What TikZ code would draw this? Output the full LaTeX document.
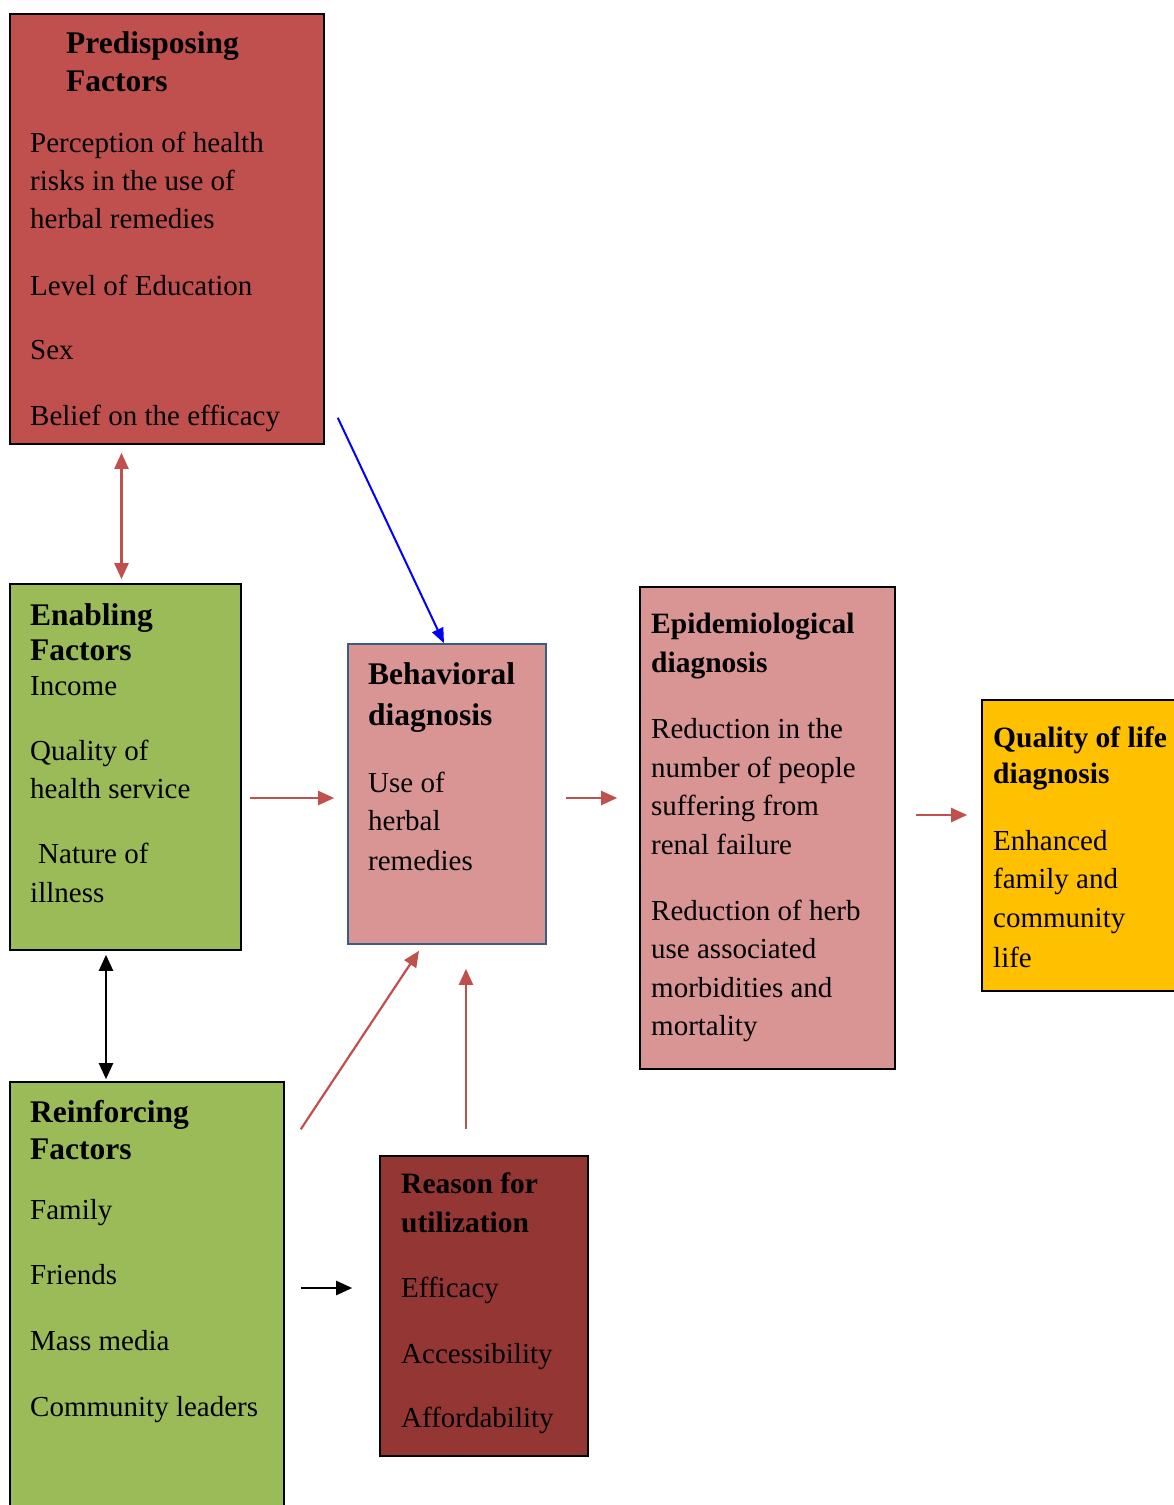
\documentclass[tikz,border=0pt]{standalone}
\usepackage{fontspec}
\setmainfont{Liberation Serif}
\usetikzlibrary{arrows.meta,calc}
\definecolor{predfill}{HTML}{C0504D}
\definecolor{greenfill}{HTML}{9BBB59}
\definecolor{pinkfill}{HTML}{D99594}
\definecolor{qolfill}{HTML}{FFC000}
\definecolor{rsnfill}{HTML}{943634}
\definecolor{behborder}{HTML}{385D8A}
\definecolor{redarrow}{HTML}{C0504D}
\tikzset{
  box/.style={draw=black, line width=1.6pt, rectangle, inner sep=0pt},
  txt/.style={anchor=base west, inner sep=0pt, font=\fontsize{29}{35}\selectfont},
  hdl/.style={anchor=base west, inner sep=0pt, font=\fontsize{31.5}{37}\selectfont\bfseries},
  hdr/.style={anchor=base west, inner sep=0pt, font=\fontsize{29.5}{35}\selectfont\bfseries},
  redarr/.style={draw=redarrow, line width=2.2pt, -{Triangle[length=16pt,width=14pt]}},
  redboth/.style={draw=redarrow, line width=2.2pt, {Triangle[length=16pt,width=14pt]}-{Triangle[length=16pt,width=14pt]}},
  blkarr/.style={draw=black, line width=2.2pt, -{Triangle[length=16pt,width=14pt]}},
  blkboth/.style={draw=black, line width=2.2pt, {Triangle[length=16pt,width=14pt]}-{Triangle[length=16pt,width=14pt]}},
  bluearr/.style={draw=blue, line width=2pt, -{Triangle[length=15pt,width=12pt]}}
}
\begin{document}
\begin{tikzpicture}[x=1pt,y=-1pt]
\useasboundingbox (0,0) rectangle (1173,1505);
% boxes
\node[box, fill=predfill, minimum width=314pt, minimum height=430pt] (pre) at (167,229) {};
\node[box, fill=greenfill, minimum width=231pt, minimum height=366pt] (en) at (125.5,767) {};
\node[box, draw=behborder, fill=pinkfill, minimum width=198pt, minimum height=300pt] (beh) at (447,794) {};
\node[box, fill=pinkfill, minimum width=255pt, minimum height=482pt] (epi) at (767.5,828) {};
\node[box, fill=qolfill, minimum width=203pt, minimum height=291pt] (qol) at (1083.5,845.5) {};
\node[box, fill=greenfill, minimum width=274pt, minimum height=438pt] (rei) at (147,1301) {};
\node[box, fill=rsnfill, minimum width=208pt, minimum height=300pt] (rsn) at (484,1306) {};
% Predisposing text
\node[hdl] (p1) at (66,53) {Predisposing};
\node[hdl] (p2) at (66,91) {Factors};
\node[txt] (p3) at (30,152) {Perception of health};
\node[txt] (p4) at (30,190) {risks in the use of};
\node[txt] (p5) at (30,228) {herbal remedies};
\node[txt] (p6) at (30,295) {Level of Education};
\node[txt] (p7) at (30,359) {Sex};
\node[txt] (p8) at (30,425) {Belief on the efficacy};
% Enabling text
\node[hdl] (e1) at (30,625) {Enabling};
\node[hdl] (e2) at (30,660) {Factors};
\node[txt] (e3) at (30,695) {Income};
\node[txt] (e4) at (30,760) {Quality of};
\node[txt] (e5) at (30,798) {health service};
\node[txt] (e6) at (38,863) {Nature of};
\node[txt] (e7) at (30,902) {illness};
% Behavioral text
\node[hdl] (b1) at (368,684) {Behavioral};
\node[hdl] (b2) at (368,725) {diagnosis};
\node[txt] (b3) at (368,792) {Use of};
\node[txt] (b4) at (368,830) {herbal};
\node[txt] (b5) at (368,870) {remedies};
% Epidemiological text
\node[hdr] (d1) at (651,633) {Epidemiological};
\node[hdr] (d2) at (651,672) {diagnosis};
\node[txt] (d3) at (651,738) {Reduction in the};
\node[txt] (d4) at (651,777) {number of people};
\node[txt] (d5) at (651,815) {suffering from};
\node[txt] (d6) at (651,854) {renal failure};
\node[txt] (d7) at (651,920) {Reduction of herb};
\node[txt] (d8) at (651,958) {use associated};
\node[txt] (d9) at (651,997) {morbidities and};
\node[txt] (d10) at (651,1035) {mortality};
% Quality of life text
\node[hdr] (q1) at (993,747) {Quality of life};
\node[hdr] (q2) at (993,783) {diagnosis};
\node[txt] (q3) at (993,850) {Enhanced};
\node[txt] (q4) at (993,888) {family and};
\node[txt] (q5) at (993,927) {community};
\node[txt] (q6) at (993,967) {life};
% Reinforcing text
\node[hdl] (r1) at (30,1122) {Reinforcing};
\node[hdl] (r2) at (30,1159) {Factors};
\node[txt] (r3) at (30,1219) {Family};
\node[txt] (r4) at (30,1284) {Friends};
\node[txt] (r5) at (30,1350) {Mass media};
\node[txt] (r6) at (30,1416) {Community leaders};
% Reason text
\node[hdr] (s1) at (401,1193) {Reason for};
\node[hdr] (s2) at (401,1232) {utilization};
\node[txt] (s3) at (401,1297) {Efficacy};
\node[txt] (s4) at (401,1363) {Accessibility};
\node[txt] (s5) at (401,1427) {Affordability};
% connectors
\draw[redboth] ($(pre.south -| en.north)+(-4,8)$) -- ($(en.north)+(-4,-4)$);
\draw[bluearr] ($(pre.south east)+(13,-27)$) -- ($(beh.north)+(-3,0)$);
\draw[redarr] ($(en.east |- beh.west)+(8,4)$) -- ($(beh.west)+(-13,4)$);
\draw[redarr] ($(beh.east)+(19,4)$) -- ($(epi.west |- beh.east)+(-22,4)$);
\draw[redarr] ($(epi.east)+(20,-13)$) -- ($(qol.west |- epi.east)+(-14,-13)$);
\draw[blkboth] ($(en.south)+(-19.5,4)$) -- ($(rei.north -| en.south)+(-19.5,-2)$);
\draw[redarr] ($(rei.north east)+(16,48)$) -- ($(beh.south)+(-28,6)$);
\draw[redarr] ($(rsn.north)+(-18,-26)$) -- ($(beh.south -| rsn.north)+(-18,24)$);
\draw[blkarr] ($(rei.east |- rsn.west)+(16,-18)$) -- ($(rsn.west)+(-27,-18)$);
\end{tikzpicture}
\end{document}
